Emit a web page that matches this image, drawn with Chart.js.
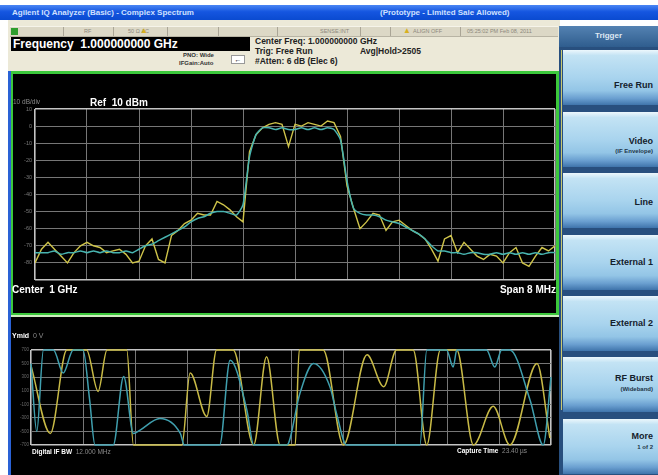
<!DOCTYPE html>
<html lang="en">
<head>
<meta charset="UTF-8">
<title>Agilent IQ Analyzer - Complex Spectrum</title>
<style>
  body { margin:0; width:658px; height:475px; overflow:hidden; background:#fff; position:relative;
         font-family:'Liberation Sans', Arial, sans-serif; }
  .abs { position:absolute; white-space:nowrap; }
  .titlebar { left:0; top:5px; width:658px; height:15px;
              background:linear-gradient(#4a86f4, #1556e0 45%, #0a4ad0); }
  .titlebar span { position:absolute; top:3px; font-size:8px; font-weight:bold; color:#cfe0ff; }
  .win { left:8px; top:20px; width:552px; height:52px; background:#ece9d8; }
  .status { left:10px; top:26px; width:548px; height:9px; background:#dcd8c6;
            border-top:1px solid #f6f4ea; border-bottom:1px solid #b8b4a4; }
  .sep { position:absolute; top:0; width:1px; height:9px; background:#aaa596; }
  .stxt { position:absolute; top:1px; font-size:5.5px; color:#8c887c; }
  .freq { left:11px; top:37px; width:239px; height:14px; background:#000; color:#fff;
          font-weight:bold; font-size:12px; line-height:14px; padding-left:2px; box-sizing:border-box; }
  .info { font-size:8.5px; font-weight:bold; color:#222; }
  .small { font-size:6px; font-weight:bold; color:#333; }
  .leftbar { left:8px; top:71px; width:3px; height:404px; background:#2a62d6; }
  .specpanel { left:11px; top:71px; width:548px; height:245px; background:#000;
               border:3px solid #3cc83c; border-left-width:2px; box-sizing:border-box; }
  .iqpanel { left:11px; top:317px; width:548px; height:158px; background:#000; }
  .lite { left:11px; top:315px; width:548px; height:2px; background:#cfeec0; }
  .wtxt { color:#fff; font-weight:bold; }
  .gtxt { color:#8a8a8a; }
  .trighead { left:559px; top:26px; width:99px; height:21px; background:linear-gradient(#5482b2, #2f5d8e);
              color:#dfe8f2; font-size:8px; font-weight:bold; text-align:center; line-height:20px; }
  .trigpanel { left:559px; top:47px; width:99px; height:428px; background:#284f7e; }
  .btn { position:absolute; left:563px; width:95px; height:55px;
         background:linear-gradient(#ecf7fc 0%, #c3e3f4 10%, #a9d4ee 50%, #93c5e6 74%, #6a9fd0 88%, #3f74ab 100%); }
  .btn .l1 { position:absolute; right:5px; font-size:9px; font-weight:bold; color:#14202c; }
  .btn .l2 { position:absolute; right:5px; font-size:6px; font-weight:bold; color:#1d3447; }
  canvas { position:absolute; }
</style>
</head>
<body>
<div class="abs titlebar">
  <span style="left:12px">Agilent IQ Analyzer (Basic) - Complex Spectrum</span>
  <span style="left:380px">(Prototype - Limited Sale Allowed)</span>
</div>
<div class="abs win"></div>
<div class="abs status">
  <div style="position:absolute;left:1px;top:1px;width:7px;height:7px;background:#2e9e2e"></div>
  <div class="sep" style="left:53px"></div><div class="sep" style="left:103px"></div>
  <div class="sep" style="left:157px"></div><div class="sep" style="left:208px"></div>
  <div class="sep" style="left:267px"></div><div class="sep" style="left:350px"></div>
  <div class="sep" style="left:380px"></div><div class="sep" style="left:450px"></div>
  <span class="stxt" style="left:74px">RF</span>
  <span class="stxt" style="left:118px">50 Ω AC</span>
  <span class="stxt" style="left:130px;top:-1px;color:#d8b020;font-size:8px">▲</span>
  <span class="stxt" style="left:310px">SENSE:INT</span>
  <span class="stxt" style="left:393px;top:-1px;color:#d8b020;font-size:8px">▲</span>
  <span class="stxt" style="left:403px">ALIGN OFF</span>
  <span class="stxt" style="left:457px">05:25:02 PM Feb 08, 2011</span>
</div>
<div class="abs freq">Frequency&nbsp; 1.000000000 GHz</div>
<div class="abs small" style="left:183px;top:52px">PNO: Wide</div>
<div class="abs small" style="left:179px;top:60px">IFGain:Auto</div>
<div class="abs" style="left:231px;top:55px;width:12px;height:7px;background:#fff;border:1px solid #999;font-size:7px;line-height:7px;text-align:center;color:#000">←</div>
<div class="abs info" style="left:255px;top:36px">Center Freq: 1.000000000 GHz</div>
<div class="abs info" style="left:255px;top:46px">Trig: Free Run</div>
<div class="abs info" style="left:360px;top:46px">Avg|Hold&gt;2505</div>
<div class="abs info" style="left:255px;top:56px">#Atten: 6 dB (Elec 6)</div>

<div class="abs leftbar"></div>
<div class="abs specpanel"></div>
<div class="abs lite"></div>
<div class="abs iqpanel"></div>

<canvas id="spectrum" width="543" height="239" style="left:13px;top:74px"></canvas>
<canvas id="iq" width="548" height="158" style="left:11px;top:317px"></canvas>

<div class="abs gtxt" style="left:13px;top:98px;font-size:6.5px">10 dB/div</div>
<div class="abs wtxt" style="left:90px;top:97px;font-size:10px">Ref&nbsp; 10 dBm</div>
<div class="abs wtxt" style="left:12px;top:284px;font-size:10px">Center&nbsp; 1 GHz</div>
<div class="abs wtxt" style="right:102px;top:284px;font-size:10px">Span 8 MHz</div>
<div class="abs" style="left:12px;top:332px;font-size:7px"><span class="wtxt">Ymid</span> <span class="gtxt">&nbsp;0 V</span></div>
<div class="abs" style="left:32px;top:448px;font-size:6.5px"><span class="wtxt">Digital IF BW</span> <span class="gtxt">&nbsp;12.000 MHz</span></div>
<div class="abs" style="left:457px;top:447px;font-size:6.5px"><span class="wtxt">Capture Time</span> <span class="gtxt">&nbsp;23.40 µs</span></div>

<div class="abs trighead">Trigger</div>
<div class="abs trigpanel"></div>
<div class="abs" style="left:561px;top:50px;width:1px;height:360px;background:#c8c870"></div>
<div class="btn" style="top:50px"><span class="l1" style="top:30px">Free Run</span></div>
<div class="btn" style="top:112px"><span class="l1" style="top:24px">Video</span><span class="l2" style="top:36px">(IF Envelope)</span></div>
<div class="btn" style="top:173px"><span class="l1" style="top:24px">Line</span></div>
<div class="btn" style="top:235px"><span class="l1" style="top:22px">External 1</span></div>
<div class="btn" style="top:296px"><span class="l1" style="top:22px">External 2</span></div>
<div class="btn" style="top:357px"><span class="l1" style="top:16px">RF Burst</span><span class="l2" style="top:29px">(Wideband)</span></div>
<div class="btn" style="top:419px"><span class="l1" style="top:12px">More</span><span class="l2" style="top:25px">1 of 2</span></div>

<script src="https://cdn.jsdelivr.net/npm/chart.js@4.4.1/dist/chart.umd.min.js"></script>
<script>
// spectrum view: center 1 GHz, span 8 MHz (offsets in MHz)
const freqMHz = [
  -4.0, -3.9, -3.8, -3.7, -3.6, -3.5, -3.4, -3.3, -3.2, -3.1,
  -3.0, -2.9, -2.8, -2.7, -2.6, -2.5, -2.4, -2.3, -2.2, -2.1,
  -2.0, -1.9, -1.8, -1.7, -1.6, -1.5, -1.4, -1.3, -1.2, -1.1,
  -1.0, -0.9, -0.8, -0.7, -0.6, -0.5, -0.4, -0.3, -0.2, -0.1,
   0.0,  0.1,  0.2,  0.3,  0.4,  0.5,  0.6,  0.7,  0.8,  0.9,
   1.0,  1.1,  1.2,  1.3,  1.4,  1.5,  1.6,  1.7,  1.8,  1.9,
   2.0,  2.1,  2.2,  2.3,  2.4,  2.5,  2.6,  2.7,  2.8,  2.9,
   3.0,  3.1,  3.2,  3.3,  3.4,  3.5,  3.6,  3.7,  3.8,  3.9, 4.0
];
// trace 1 (yellow), dBm
const trace1Dbm = [
  -80, -72, -68, -72, -76, -80, -74, -70, -68, -70, -71, -74, -73, -72, -75, -80,
  -79, -70, -66, -78, -80, -64, -61, -57, -55, -51, -52, -52, -44, -46, -49, -53,
  -56, -15, -5, -1, 1, 2, 1, -12, 1, 0, 2, 1, 0, 3, 2, -6,
  -35, -48, -60, -56, -51, -52, -61, -56, -55, -58, -61, -63, -66, -72, -79, -66,
  -64, -74, -68, -72, -76, -78, -75, -76, -80, -74, -71, -80, -82, -76, -71, -73,
  -70
];
// trace 2 (cyan), dBm
const trace2Dbm = [
  -74, -74, -74, -73, -75, -74, -74, -73, -74, -73, -74, -73, -74, -74, -73, -74,
  -72, -70, -69, -67, -65, -63, -61, -59, -56, -54, -53, -51, -50, -50, -51, -52,
  -46, -18, -5, -1, -1, -2, -1, -2, -2, -1, -2, -1, -2, -1, -2, -8,
  -32, -48, -51, -52, -52, -53, -55, -56, -57, -59, -61, -63, -66, -70, -73, -73,
  -74, -74, -75, -74, -74, -75, -75, -74, -75, -74, -75, -74, -75, -74, -75, -74,
  -74
];
const refLevelDbm = 10;
const dbPerDiv = 10;

// IQ waveform view, capture time 23.40 us, Ymid 0 V (values in mV)
const iqYellowUs = [0, 0.87, 1.61, 2.50, 3.02, 3.42, 4.31, 4.61, 6.79, 7.16, 7.91, 8.35, 9.10, 10.02, 10.60, 11.21,
  11.89, 12.07, 13.15, 14.06, 15.12, 15.87, 16.45, 17.20, 17.81, 18.42, 19.16, 19.91, 20.80, 21.55, 22.77, 23.35];
const iqYellowMv = [470, -530, 700, 700, 90, 700, 700, -700, -700, 360, -280, 700, 700, -700, 600, -700,
  -700, 700, 700, -700, 630, 160, 700, 700, -700, 700, 700, -700, -130, -700, 500, -600];
const iqCyanUs = [0, 0.26, 0.56, 1.01, 1.45, 1.90, 2.34, 2.64, 2.88, 3.70, 4.17, 4.61, 4.91, 5.80, 6.72, 6.90,
  8.49, 8.96, 9.71, 10.02, 11.51, 12.10, 12.71, 13.46, 13.76, 14.20, 17.50, 17.81, 18.70, 19.00, 19.16, 20.50,
  20.87, 21.18, 21.55, 22.46, 23.05, 23.40];
const iqCyanMv = [500, -500, 700, 700, 360, 700, 700, -40, -700, -700, 310, -530, -480, -310, -530, -700,
  -700, 550, -180, -700, -700, 60, 500, 150, -250, -700, -700, 700, 700, 450, 700, 700,
  450, 700, 700, -40, -700, 300];
const captureUs = 23.40;
const iqHalfRangeMv = 700;

const toXY = (xs, ys) => xs.map((x, i) => ({ x: x, y: ys[i] }));
const edgeColor = (last) => (c) => (c.index === 0 || c.index === last) ? '#c4c4c4' : '#767676';
const edgeWidth = (last) => (c) => (c.index === 0 || c.index === last) ? 1.6 : 1;

new Chart(document.getElementById('spectrum'), {
  type: 'line',
  data: {
    datasets: [
      { data: toXY(freqMHz, trace2Dbm), borderColor: '#48b4b0', borderWidth: 1.5, pointRadius: 0, tension: 0.2 },
      { data: toXY(freqMHz, trace1Dbm), borderColor: '#cfc44a', borderWidth: 1.4, pointRadius: 0, tension: 0 }
    ]
  },
  options: {
    responsive: false,
    animation: false,
    layout: { padding: { left: 0, right: 1, top: 35, bottom: 33 } },
    plugins: { legend: { display: false }, tooltip: { enabled: false } },
    scales: {
      x: {
        type: 'linear', min: -4, max: 4,
        ticks: { stepSize: 0.8, display: false },
        grid: { color: edgeColor(10), lineWidth: edgeWidth(10), drawTicks: false },
        border: { display: false },
        afterFit: (s) => { s.height = 0; }
      },
      y: {
        min: refLevelDbm - 10 * dbPerDiv, max: refLevelDbm,
        ticks: { stepSize: dbPerDiv, color: '#7a7a7a', font: { size: 5.5 }, padding: 3,
                 callback: (v) => v === refLevelDbm - 10 * dbPerDiv ? '' : v },
        grid: { color: edgeColor(10), lineWidth: edgeWidth(10), drawTicks: false },
        border: { display: false },
        afterFit: (s) => { s.width = 22; }
      }
    }
  }
});

new Chart(document.getElementById('iq'), {
  type: 'line',
  data: {
    datasets: [
      { data: toXY(iqCyanUs, iqCyanMv), borderColor: '#3f9fae', borderWidth: 1.5, pointRadius: 0,
        cubicInterpolationMode: 'monotone', clip: 3 },
      { data: toXY(iqYellowUs, iqYellowMv), borderColor: '#c8ba46', borderWidth: 1.5, pointRadius: 0,
        cubicInterpolationMode: 'monotone', clip: 3 }
    ]
  },
  options: {
    responsive: false,
    animation: false,
    layout: { padding: { left: 0, right: 8, top: 33, bottom: 30 } },
    plugins: { legend: { display: false }, tooltip: { enabled: false } },
    scales: {
      x: {
        type: 'linear', min: 0, max: captureUs,
        ticks: { stepSize: captureUs / 10, display: false },
        grid: { color: edgeColor(10), lineWidth: edgeWidth(10), drawTicks: false },
        border: { display: false },
        afterFit: (s) => { s.height = 0; }
      },
      y: {
        min: -iqHalfRangeMv, max: iqHalfRangeMv,
        ticks: { stepSize: 100, color: '#6a6a6a', font: { size: 4.5 }, padding: 2 },
        grid: { color: edgeColor(14), lineWidth: edgeWidth(14), drawTicks: false },
        border: { display: false },
        afterFit: (s) => { s.width = 20; }
      }
    }
  }
});
</script>
</body>
</html>
